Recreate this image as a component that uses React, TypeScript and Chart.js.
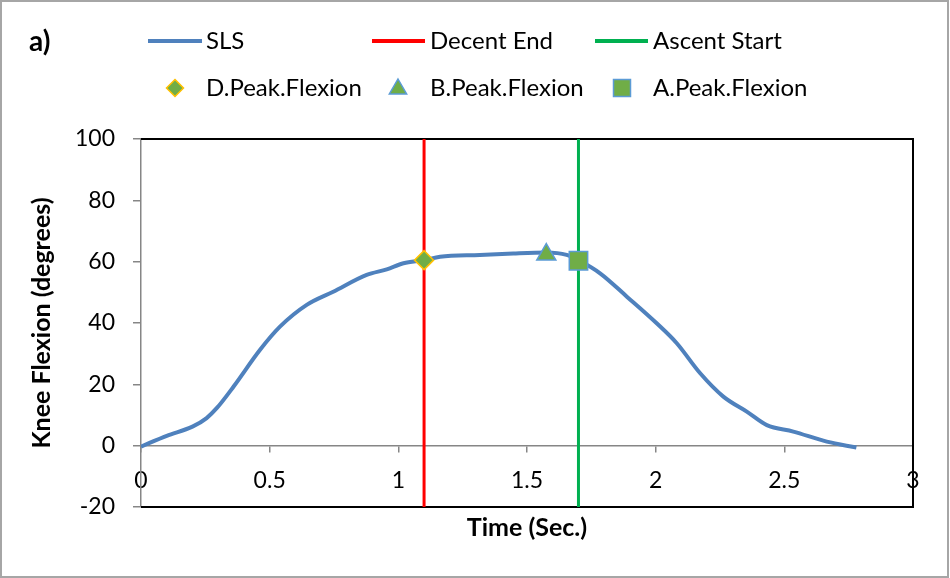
import React, { useEffect, useRef } from 'react';
import { Chart, registerables } from 'chart.js';

Chart.register(...registerables);

// ---- Data ----
const timeSec = [0, 0.1, 0.2, 0.255, 0.295, 0.36, 0.462, 0.54, 0.644, 0.747, 0.877, 0.955, 1.02, 1.1, 1.162, 1.317, 1.447, 1.574, 1.654, 1.706, 1.784, 1.888, 2.004, 2.082, 2.173, 2.263, 2.354, 2.432, 2.535, 2.665, 2.78];
const kneeFlexion = [-0.3, 3.2, 6.2, 9.0, 12.3, 19.3, 31.2, 38.8, 45.9, 50.2, 55.7, 57.5, 59.5, 60.5, 61.6, 62.2, 62.7, 63.0, 62.2, 60.2, 56.2, 48.6, 39.9, 33.4, 23.6, 16.0, 11.1, 6.7, 4.6, 1.3, -0.6];

const decentEndTime = 1.1;
const ascentStartTime = 1.7;
const verticalLineRange = [-20, 100];

const dPeakTime = [1.1];
const dPeakValue = [60.5];
const bPeakTime = [1.575];
const bPeakValue = [62.3];
const aPeakTime = [1.7];
const aPeakValue = [60.3];

const xTicks = [0, 0.5, 1, 1.5, 2, 2.5, 3];
const yTicks = [-20, 0, 20, 40, 60, 80, 100];

const seriesNames = ['SLS', 'Decent End', 'Ascent Start', 'D.Peak.Flexion', 'B.Peak.Flexion', 'A.Peak.Flexion'];

const FONT = 'Lato, "Open Sans", sans-serif';
const BLUE = '#4f81bd';
const RED = '#ff0000';
const GREEN = '#00b050';
const MARK_GREEN = '#70ad47';
const GOLD = '#ffc000';
const LIGHT_BLUE = '#5b9bd5';

function pts(xs: number[], ys: number[]) {
  return xs.map((x, i) => ({ x, y: ys[i] }));
}

function drawDiamond(ctx: CanvasRenderingContext2D, x: number, y: number, r: number) {
  ctx.beginPath();
  ctx.moveTo(x, y - r);
  ctx.lineTo(x + r, y);
  ctx.lineTo(x, y + r);
  ctx.lineTo(x - r, y);
  ctx.closePath();
  ctx.fillStyle = MARK_GREEN;
  ctx.fill();
  ctx.strokeStyle = GOLD;
  ctx.lineWidth = 1.5;
  ctx.stroke();
}
function drawTriangle(ctx: CanvasRenderingContext2D, x: number, y: number, r: number) {
  ctx.beginPath();
  ctx.moveTo(x, y - r);
  ctx.lineTo(x + r * 0.866, y + r * 0.5);
  ctx.lineTo(x - r * 0.866, y + r * 0.5);
  ctx.closePath();
  ctx.fillStyle = MARK_GREEN;
  ctx.fill();
  ctx.strokeStyle = LIGHT_BLUE;
  ctx.lineWidth = 1.5;
  ctx.stroke();
}
function drawSquare(ctx: CanvasRenderingContext2D, x: number, y: number, h: number) {
  ctx.beginPath();
  ctx.rect(x - h, y - h, 2 * h, 2 * h);
  ctx.fillStyle = MARK_GREEN;
  ctx.fill();
  ctx.strokeStyle = LIGHT_BLUE;
  ctx.lineWidth = 1.5;
  ctx.stroke();
}

const decorPlugin = {
  id: 'decor',
  beforeDraw(chart: any) {
    const ctx = chart.ctx as CanvasRenderingContext2D;
    ctx.save();
    ctx.fillStyle = '#ffffff';
    ctx.fillRect(0, 0, chart.width, chart.height);
    ctx.strokeStyle = '#a6a6a6';
    ctx.lineWidth = 2;
    ctx.strokeRect(1, 1, chart.width - 3, chart.height - 2);
    ctx.restore();
  },
  beforeDatasetsDraw(chart: any) {
    const ctx = chart.ctx as CanvasRenderingContext2D;
    const a = chart.chartArea;
    ctx.save();
    ctx.strokeStyle = '#000000';
    ctx.lineWidth = 2;
    ctx.beginPath();
    ctx.moveTo(a.left, a.top);
    ctx.lineTo(a.right, a.top);
    ctx.lineTo(a.right, a.bottom);
    ctx.lineTo(a.left, a.bottom);
    ctx.stroke();
    ctx.restore();
  },
  afterDraw(chart: any) {
    const ctx = chart.ctx as CanvasRenderingContext2D;
    ctx.save();
    ctx.textBaseline = 'middle';
    ctx.textAlign = 'left';
    ctx.fillStyle = '#000000';
    ctx.font = `bold 28px ${FONT}`;
    ctx.fillText('a)', 29, 42);

    const row1 = 41;
    const row2 = 88;
    ctx.lineWidth = 4;
    const lines: [number, number, string][] = [[148, 202, BLUE], [372, 425, RED], [595, 648, GREEN]];
    lines.forEach(([x1, x2, c]) => {
      ctx.strokeStyle = c;
      ctx.beginPath();
      ctx.moveTo(x1, row1);
      ctx.lineTo(x2, row1);
      ctx.stroke();
    });
    drawDiamond(ctx, 175, row2, 8.5);
    drawTriangle(ctx, 398, row2 + 1, 10);
    drawSquare(ctx, 622, row2, 8.5);

    ctx.fillStyle = '#000000';
    ctx.font = `24px ${FONT}`;
    const textX = [206, 430, 653];
    ctx.fillText(seriesNames[0], textX[0], row1);
    ctx.fillText(seriesNames[1], textX[1], row1);
    ctx.fillText(seriesNames[2], textX[2], row1);
    ctx.fillText(seriesNames[3], textX[0], row2);
    ctx.fillText(seriesNames[4], textX[1], row2);
    ctx.fillText(seriesNames[5], textX[2], row2);
    ctx.restore();
  },
};

export default function App() {
  const canvasRef = useRef<HTMLCanvasElement>(null);

  useEffect(() => {
    const canvas = canvasRef.current;
    if (!canvas) return;
    const chart = new Chart(canvas, {
      type: 'line',
      data: {
        datasets: [
          {
            label: seriesNames[3],
            type: 'scatter',
            data: pts(dPeakTime, dPeakValue),
            pointStyle: 'rectRot',
            pointRadius: 9.5,
            pointBackgroundColor: MARK_GREEN,
            pointBorderColor: GOLD,
            pointBorderWidth: 1.5,
            order: 0,
          },
          {
            label: seriesNames[4],
            type: 'scatter',
            data: pts(bPeakTime, bPeakValue),
            pointStyle: 'triangle',
            pointRadius: 11,
            pointBackgroundColor: MARK_GREEN,
            pointBorderColor: LIGHT_BLUE,
            pointBorderWidth: 1.5,
            order: 0,
          },
          {
            label: seriesNames[5],
            type: 'scatter',
            data: pts(aPeakTime, aPeakValue),
            pointStyle: 'rect',
            pointRadius: 13,
            pointBackgroundColor: MARK_GREEN,
            pointBorderColor: LIGHT_BLUE,
            pointBorderWidth: 1.5,
            order: 0,
          },
          {
            label: seriesNames[0],
            data: pts(timeSec, kneeFlexion),
            borderColor: BLUE,
            borderWidth: 4,
            pointRadius: 0,
            cubicInterpolationMode: 'monotone',
            fill: false,
            order: 1,
          },
          {
            label: seriesNames[1],
            data: pts([decentEndTime, decentEndTime], verticalLineRange),
            borderColor: RED,
            borderWidth: 3,
            pointRadius: 0,
            order: 2,
          },
          {
            label: seriesNames[2],
            data: pts([ascentStartTime, ascentStartTime], verticalLineRange),
            borderColor: GREEN,
            borderWidth: 3,
            pointRadius: 0,
            order: 2,
          },
        ],
      },
      options: {
        responsive: false,
        animation: false,
        layout: { padding: { left: 0, top: 139, right: 37, bottom: 0 } },
        plugins: {
          legend: { display: false },
          tooltip: { enabled: false },
        },
        scales: {
          x: {
            type: 'linear',
            position: { y: 0 } as any,
            min: 0,
            max: 3,
            afterBuildTicks: (s: any) => {
              s.ticks = xTicks.map((v) => ({ value: v }));
            },
            ticks: {
              color: '#000000',
              font: { family: FONT, size: 23 },
              padding: 15,
              maxRotation: 0,
              autoSkip: false,
              callback: (v: any) => String(v),
            },
            grid: {
              display: true,
              drawOnChartArea: false,
              drawTicks: true,
              tickLength: 6,
              color: '#868686',
              lineWidth: 1.5,
            },
            border: { display: true, color: '#868686', width: 1.5 },
          },
          x2: {
            type: 'linear',
            position: 'bottom',
            min: 0,
            max: 3,
            ticks: { display: false },
            grid: { display: false, drawTicks: false },
            border: { display: false },
            title: {
              display: true,
              text: 'Time (Sec.)',
              color: '#000000',
              font: { family: FONT, size: 25, weight: 'bold' },
              padding: { top: 0, bottom: 35 },
            },
            afterFit: (s: any) => {
              s.height = 71;
            },
          },
          y: {
            type: 'linear',
            position: 'left',
            min: -20,
            max: 100,
            afterBuildTicks: (s: any) => {
              s.ticks = yTicks.map((v) => ({ value: v }));
            },
            ticks: {
              color: '#000000',
              font: { family: FONT, size: 23 },
              padding: 18,
              callback: (v: any) => String(v),
            },
            grid: {
              display: true,
              drawOnChartArea: false,
              drawTicks: true,
              tickLength: 8,
              color: '#868686',
              lineWidth: 1.5,
            },
            border: { display: true, color: '#868686', width: 1.5 },
            title: {
              display: true,
              text: 'Knee Flexion (degrees)',
              color: '#000000',
              font: { family: FONT, size: 25, weight: 'bold' },
              padding: { top: 27, bottom: 0 },
            },
            afterFit: (s: any) => {
              s.width = 141;
            },
          },
        },
      },
      plugins: [decorPlugin],
    } as any);
    return () => chart.destroy();
  }, []);

  return (
    <div style={{ position: 'fixed', left: 0, top: 0, width: 950, height: 578 }}>
      <canvas ref={canvasRef} width={950} height={578} style={{ display: 'block', width: 950, height: 578 }} />
    </div>
  );
}
